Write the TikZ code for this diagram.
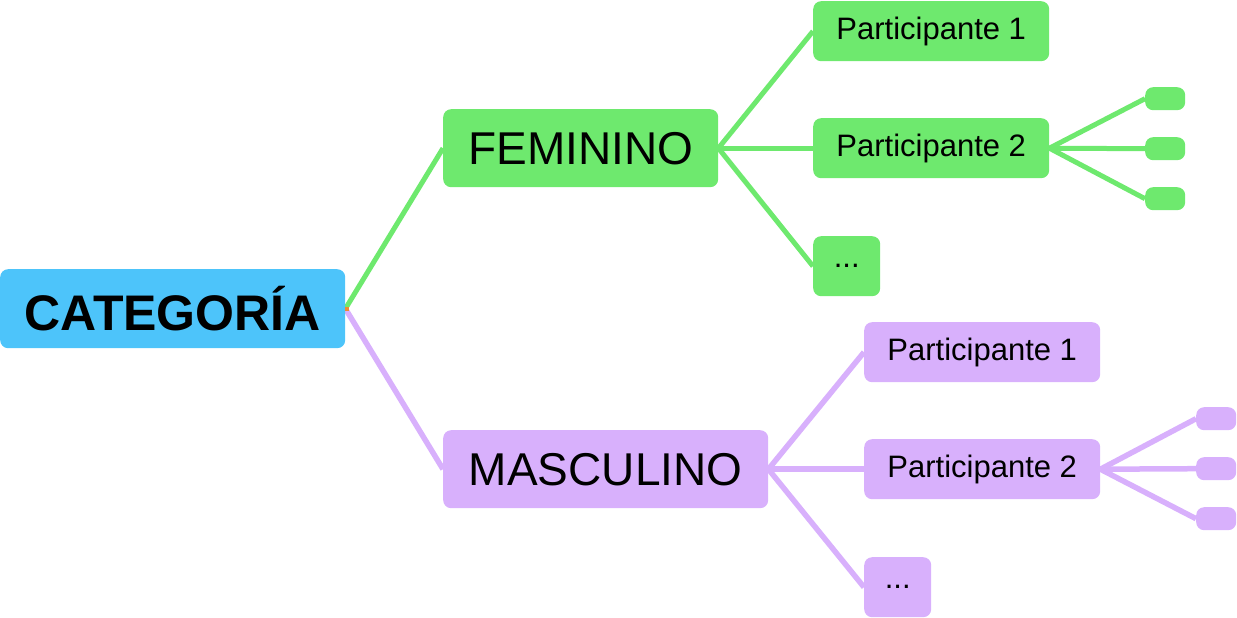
\documentclass[tikz,border=0pt]{standalone}
\usepackage{fontspec}
\setmainfont{Liberation Sans}
\usetikzlibrary{calc,backgrounds}
\definecolor{gr}{HTML}{6EE96E}
\definecolor{pu}{HTML}{D8B0FC}
\definecolor{bl}{HTML}{4DC4FA}
\definecolor{orr}{HTML}{F08A30}
\begin{document}
\begin{tikzpicture}[x=1pt,y=-1pt,
 box/.style={rounded corners=8pt,inner sep=0pt,anchor=north west},
 gline/.style={gr,line width=5pt},
 pline/.style={pu,line width=5.5pt}]
\useasboundingbox (0,0) rectangle (1237,618);
\newcommand{\bx}[7]{\node[box,fill=#2,minimum width=#5-#3,minimum height=#6-#4] (#1) at (#3,#4) {#7};}
\newcommand{\cv}[3]{\draw[#1] (#2.east) .. controls ($(#2.east)!0.5!(#3.west)$ |- #2.east) and ($(#2.east)!0.5!(#3.west)$ |- #3.west) .. (#3.west);}
\bx{root}{bl}{0}{269}{345}{348}{\fontsize{50}{50}\selectfont\bfseries CATEGORÍA}
\bx{fem}{gr}{443}{109}{718}{187}{\fontsize{46}{46}\selectfont FEMININO}
\bx{mas}{pu}{443}{430}{768}{508}{\fontsize{46}{46}\selectfont MASCULINO}
\bx{f1}{gr}{813}{1}{1049}{61}{\fontsize{31}{31}\selectfont Participante 1}
\bx{f2}{gr}{813}{118}{1049}{178}{\fontsize{31}{31}\selectfont Participante 2}
\bx{f3}{gr}{813}{236}{880}{296}{\fontsize{31}{31}\selectfont ...}
\bx{m1}{pu}{864}{322}{1100}{382}{\fontsize{31}{31}\selectfont Participante 1}
\bx{m2}{pu}{864}{439}{1100}{499}{\fontsize{31}{31}\selectfont Participante 2}
\bx{m3}{pu}{864}{557}{931}{617}{\fontsize{31}{31}\selectfont ...}
\bx{fa}{gr}{1145}{87}{1185}{110}{}
\bx{fb}{gr}{1145}{137}{1185}{160}{}
\bx{fc}{gr}{1145}{187}{1185}{210}{}
\bx{ma}{pu}{1196}{407}{1236}{430}{}
\bx{mb}{pu}{1196}{457}{1236}{480}{}
\bx{mc}{pu}{1196}{507}{1236}{530}{}
\begin{scope}[on background layer]
\cv{gline}{root}{fem}
\cv{pline}{root}{mas}
\foreach \t in {f1,f2,f3} {\cv{gline}{fem}{\t}}
\foreach \t in {fa,fb,fc} {\cv{gline}{f2}{\t}}
\foreach \t in {m1,m2,m3} {\cv{pline}{mas}{\t}}
\foreach \t in {ma,mb,mc} {\cv{pline}{m2}{\t}}
\end{scope}
\fill[orr] ($(root.east)+(0,-2)$) rectangle ($(root.east)+(4,2)$);
\end{tikzpicture}
\end{document}
